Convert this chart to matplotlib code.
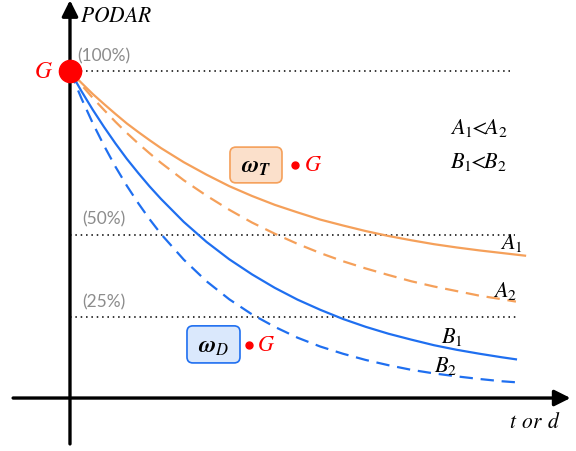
import matplotlib
matplotlib.use("Agg")
import matplotlib.pyplot as plt
from matplotlib.patches import FancyBboxPatch

plt.rcParams['mathtext.fontset'] = 'custom'
plt.rcParams['mathtext.rm'] = 'STIXGeneral'
plt.rcParams['mathtext.it'] = 'STIXGeneral:italic'
plt.rcParams['mathtext.bf'] = 'STIXGeneral:italic:bold'
plt.rcParams['mathtext.fallback'] = 'stix'

# ---- data ----
t_A1 = [0, 0.25, 0.5, 0.75, 1, 1.25, 1.5, 1.75, 2, 2.5, 3, 3.5, 4, 4.5, 5, 5.5,
        6, 6.5, 7, 7.5, 8, 8.5, 9, 9.5, 10]
A1 = [100, 96.4, 93.0, 89.9, 86.9, 84.0, 81.4, 78.9, 76.5, 72.2, 68.4, 64.9, 61.9,
      59.2, 56.9, 54.7, 52.9, 51.2, 49.7, 48.4, 47.2, 46.2, 45.3, 44.5, 43.7]
t_other = [0, 0.25, 0.5, 0.75, 1, 1.25, 1.5, 1.75, 2, 2.5, 3, 3.5, 4, 4.5, 5, 5.5,
           6, 6.5, 7, 7.5, 8, 8.5, 9, 9.5, 9.8]
A2 = [100, 95.8, 91.8, 88.1, 84.5, 81.1, 77.9, 74.9, 72.0, 66.7, 62.0, 57.7, 53.8,
      50.4, 47.3, 44.5, 42.0, 39.8, 37.8, 35.9, 34.3, 32.9, 31.5, 30.4, 29.7]
B1 = [100, 93.9, 88.2, 82.9, 77.9, 73.2, 68.9, 64.8, 61.0, 54.0, 47.9, 42.6, 38.0,
      33.9, 30.3, 27.2, 24.4, 22.0, 19.9, 18.1, 16.4, 15.0, 13.8, 12.7, 12.1]
B2 = [100, 91.7, 84.1, 77.2, 70.8, 65.0, 59.7, 54.8, 50.3, 42.5, 35.9, 30.4, 25.8,
      22.0, 18.7, 16.0, 13.8, 11.9, 10.3, 8.9, 7.8, 6.9, 6.1, 5.4, 5.1]
ref_levels = [100, 50, 25]
ref_labels = ['(100%)', '(50%)', '(25%)']
level_ends = [9.7, 9.78, 9.87]

ORANGE = '#f5a05a'
BLUE = '#1f6ff0'

fig = plt.figure(figsize=(5.76, 4.51), dpi=100)
ax = fig.add_axes([0, 0, 1, 1])
ax.set_xlim(-1.538, 11.12)
ax.set_ylim(-15.85, 121.65)
ax.axis('off')

# reference dotted lines
for lev, xe in zip(ref_levels, level_ends):
    ax.plot([0, xe], [lev, lev], ls=(0, (1, 2.5)), color='black', lw=1.1, zorder=1)
label_y = {100: 104.6, 50: 54.9, 25: 29.6}
label_x = {100: 0.17, 50: 0.28, 25: 0.28}
for lev, lab in zip(ref_levels, ref_labels):
    ax.text(label_x[lev], label_y[lev], lab, color='#8c8c8c', fontsize=12.5,
            family='Lato', ha='left', va='center')

# curves
ax.plot(t_A1, A1, color=ORANGE, lw=1.6, zorder=3)
ax.plot(t_other, A2, color=ORANGE, lw=1.6, ls=(0, (6, 3.5)), zorder=3)
ax.plot(t_other, B1, color=BLUE, lw=1.6, zorder=3)
ax.plot(t_other, B2, color=BLUE, lw=1.6, ls=(0, (6, 3.5)), zorder=3)

# axes arrows
ax.annotate('', xy=(11.0, 0.3), xytext=(-1.25, 0.3),
            arrowprops=dict(arrowstyle='-|>', lw=2.4, color='black',
                            mutation_scale=24, shrinkA=0, shrinkB=0), zorder=4)
ax.annotate('', xy=(0, 121.6), xytext=(0, -13.7),
            arrowprops=dict(arrowstyle='-|>', lw=2.4, color='black',
                            mutation_scale=24, shrinkA=0, shrinkB=0), zorder=4)

# origin point G
ax.plot([0], [100], 'o', color='#ff0000', ms=16, zorder=5)
ax.text(-0.571, 100, '$G$', color='#ff0000', fontsize=17, ha='center', va='center')

# axis labels
ax.text(0.22, 116.8, '$PODAR$', fontsize=15.5, ha='left', va='center')
ax.text(10.22, -7.0, '$t$ $or$ $d$', fontsize=15.5, ha='center', va='center')

# inequality notes
ax.text(8.35, 82.6, '$A_1\\!\\!<\\!\\!A_2$', fontsize=16, ha='left', va='center')
ax.text(8.35, 72.3, '$B_1\\!\\!<\\!\\!B_2$', fontsize=16, ha='left', va='center')

# curve labels
ax.text(9.71, 47.6, '$A_1$', fontsize=16, ha='center', va='center')
ax.text(9.56, 32.9, '$A_2$', fontsize=16, ha='center', va='center')
ax.text(8.40, 18.9, '$B_1$', fontsize=16, ha='center', va='center')
ax.text(8.26, 10.1, '$B_2$', fontsize=16, ha='center', va='center')

# boxes
asp = 45.5 / 3.28
boxT = FancyBboxPatch((3.516, 65.9), 4.659 - 3.516, 76.8 - 65.9,
                      boxstyle='round,pad=0,rounding_size=0.13', mutation_aspect=asp,
                      fc='#fbe0cb', ec=ORANGE, lw=1.2, zorder=4)
ax.add_patch(boxT)
ax.text(4.088, 71.0, '$\\mathbf{\\omega_T}$', fontsize=17, ha='center', va='center', zorder=5)
ax.plot([4.945], [71.3], 'o', color='#ff0000', ms=5, zorder=5)
ax.text(5.34, 71.3, '$G$', color='#ff0000', fontsize=16, ha='center', va='center')

boxD = FancyBboxPatch((2.571, 11.0), 3.736 - 2.571, 22.3 - 11.0,
                      boxstyle='round,pad=0,rounding_size=0.13', mutation_aspect=asp,
                      fc='#dae8fc', ec=BLUE, lw=1.2, zorder=4)
ax.add_patch(boxD)
ax.text(3.154, 16.3, '$\\mathbf{\\omega}_D$', fontsize=17, ha='center', va='center', zorder=5)
ax.plot([3.934], [16.5], 'o', color='#ff0000', ms=5, zorder=5)
ax.text(4.308, 16.5, '$G$', color='#ff0000', fontsize=16, ha='center', va='center')

fig.savefig('out.png', dpi=100)
